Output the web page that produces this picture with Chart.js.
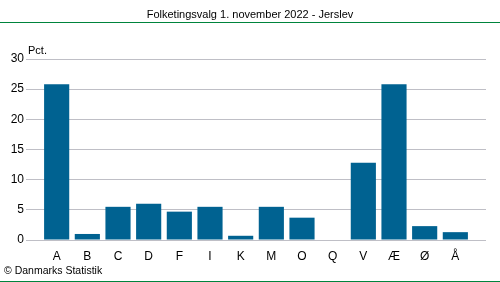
<!DOCTYPE html>
<html lang="da">
<head>
<meta charset="UTF-8">
<title>Folketingsvalg 1. november 2022 - Jerslev</title>
<script src="https://cdn.jsdelivr.net/npm/chart.js"></script>
<style>
  * { margin: 0; padding: 0; box-sizing: border-box; }
  body { width: 500px; height: 282px; background: #fff; overflow: hidden; }
  #wrap { position: relative; width: 500px; height: 282px; }
</style>
</head>
<body>
<div id="wrap"><canvas id="chart" width="500" height="282"></canvas></div>
<script>
// partibogstaver og stemmeandele (pct.)
const parties = ['A', 'B', 'C', 'D', 'F', 'I', 'K', 'M', 'O', 'Q', 'V', 'Æ', 'Ø', 'Å'];
const shares = [25.8, 1.0, 5.5, 6.0, 4.7, 5.5, 0.7, 5.5, 3.7, 0, 12.8, 25.8, 2.3, 1.3];
const yTicks = [0, 5, 10, 15, 20, 25, 30];

const titleText = 'Folketingsvalg 1. november 2022 - Jerslev';
const unitText = 'Pct.';
const sourceText = '© Danmarks Statistik';
const FONT = '"Liberation Sans", Arial, sans-serif';

// titel, grønne streger og kildeangivelse
const frame = {
  id: 'frame',
  afterDraw(chart) {
    const ctx = chart.ctx;
    ctx.save();
    ctx.fillStyle = '#000';
    ctx.font = '11px ' + FONT;
    ctx.textAlign = 'center';
    ctx.textBaseline = 'middle';
    ctx.fillText(titleText, 250, 15);
    ctx.textAlign = 'left';
    ctx.fillText(unitText, 28, 51);
    ctx.font = '10.5px ' + FONT;
    ctx.fillText(sourceText, 4, 271);
    ctx.strokeStyle = '#00843D';
    ctx.lineWidth = 1;
    ctx.beginPath();
    ctx.moveTo(0, 22.5); ctx.lineTo(500, 22.5);
    ctx.moveTo(0, 281.5); ctx.lineTo(500, 281.5);
    ctx.stroke();
    ctx.restore();
  }
};

new Chart(document.getElementById('chart'), {
  type: 'bar',
  data: {
    datasets: [{
      data: shares.map((v, i) => ({ x: i, y: v })),
      backgroundColor: '#006291',
      borderWidth: 0,
      barPercentage: 0.82,
      categoryPercentage: 1
    }]
  },
  options: {
    responsive: false,
    animation: false,
    layout: { padding: { top: 59, right: 14, left: 0, bottom: 0 } },
    plugins: { legend: { display: false }, tooltip: { enabled: false }, title: { display: false } },
    scales: {
      x: {
        type: 'linear',
        offset: false,
        min: -1,
        max: 14,
        grid: { display: false, offset: false },
        border: { display: false },
        afterFit(s) { s.height = 42; },
        afterBuildTicks(s) { s.ticks = parties.map((p, i) => ({ value: i })); },
        ticks: {
          autoSkip: false,
          maxRotation: 0,
          padding: 1,
          color: '#000',
          font: { family: FONT, size: 12 },
          callback: v => parties[v] ?? ''
        }
      },
      y: {
        min: 0,
        max: 30,
        afterFit(s) { s.width = 26; },
        afterBuildTicks(s) { s.ticks = yTicks.map(v => ({ value: v })); },
        grid: { color: '#bfbfc6', lineWidth: 1, drawTicks: false },
        border: { display: false },
        ticks: {
          padding: 2,
          color: '#000',
          font: { family: FONT, size: 12 }
        }
      }
    }
  },
  plugins: [frame]
});
</script>
</body>
</html>
